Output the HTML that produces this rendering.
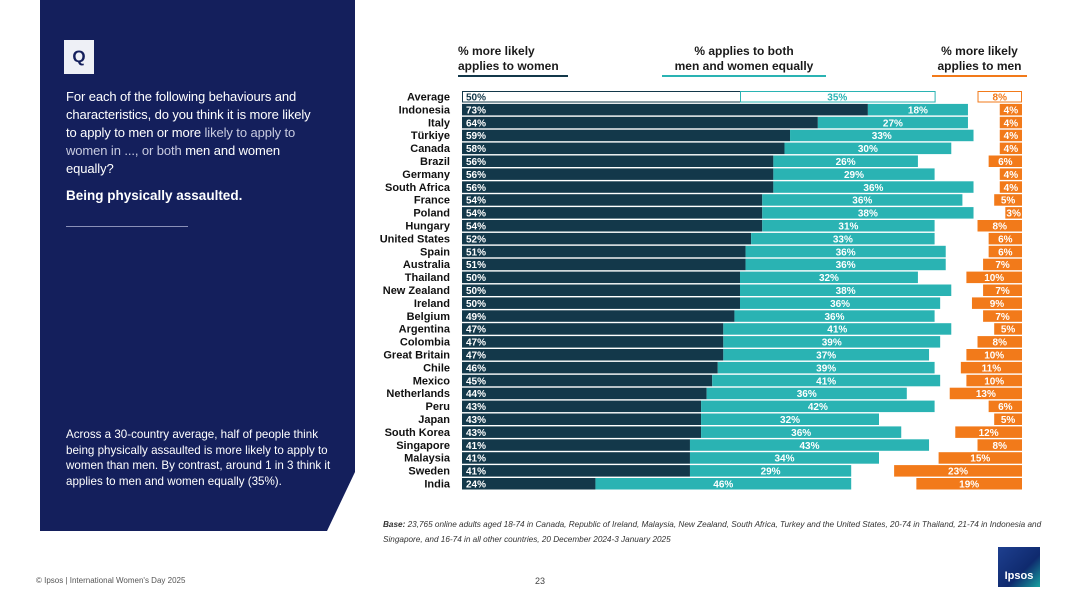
<!DOCTYPE html>
<html><head><meta charset="utf-8">
<style>
body{margin:0;width:1080px;height:608px;background:#fff;position:relative;overflow:hidden;font-family:"Liberation Sans",sans-serif}
.abs{position:absolute}
.hd{font-weight:bold;font-size:12px;color:#1a1a1a;line-height:15px;text-align:center}
</style></head><body>
<svg class="abs" style="left:0;top:0" width="1080" height="608">
<polygon points="40,0 355,0 355,472 327,531 40,531" fill="#141f5c"/>
</svg>
<div class="abs" style="left:64px;top:40px;width:30px;height:34px;background:#eef0f6;color:#141f5c;font-weight:bold;font-size:17px;text-align:center;line-height:34px">Q</div>
<div class="abs" style="left:66px;top:88px;width:255px;color:#fff;font-size:13px;line-height:18px;letter-spacing:-0.1px">For each of the following behaviours and characteristics, do you think it is more likely to apply to men or more <span style="color:#c8cbe0">likely to apply to women in ..., or both</span> men and women equally?</div>
<div class="abs" style="left:66px;top:188px;color:#fff;font-size:13.5px;font-weight:bold">Being physically assaulted.</div>
<div class="abs" style="left:66px;top:226px;width:122px;border-top:1px solid #8a90b8"></div>
<div class="abs" style="left:66px;top:427px;width:266px;color:#fff;font-size:11.6px;line-height:15.5px">Across a 30-country average, half of people think being physically assaulted is more likely to apply to women than men. By contrast, around 1 in 3 think it applies to men and women equally (35%).</div>

<div class="abs hd" style="left:458px;top:44px;width:110px;text-align:left">% more likely<br>applies to women<div style="height:2px;background:#13384a;margin-top:1px"></div></div>
<div class="abs hd" style="left:662px;top:44px;width:164px">% applies to both<br>men and women equally<div style="height:2px;background:#2ab3b3;margin-top:1px"></div></div>
<div class="abs hd" style="left:932px;top:44px;width:95px">% more likely<br>applies to men<div style="height:2px;background:#f27a1a;margin-top:1px"></div></div>

<svg class="abs" id="chart" style="left:0;top:0" width="1080" height="608"></svg>

<div class="abs" style="left:383px;top:517px;width:670px;font-size:8.2px;line-height:15px;color:#333;font-style:italic"><b>Base:</b> 23,765 online adults aged 18-74 in Canada, Republic of Ireland, Malaysia, New Zealand, South Africa, Turkey and the United States, 20-74 in Thailand, 21-74 in Indonesia and Singapore, and 16-74 in all other countries, 20 December 2024-3 January 2025</div>
<div class="abs" style="left:36px;top:576px;font-size:8px;color:#555">© Ipsos | International Women's Day 2025</div>
<div class="abs" style="left:535px;top:576px;font-size:9px;color:#444">23</div>
<div class="abs" style="left:998px;top:547px;width:42px;height:40px;background:linear-gradient(135deg,#1e3f8f,#0f2a6e 60%,#17a2a0);color:#fff;font-weight:bold;font-size:11px;text-align:center;line-height:58px">Ipsos</div>

<script>
const countries=["Average","Indonesia","Italy","Türkiye","Canada","Brazil","Germany","South Africa","France","Poland","Hungary","United States","Spain","Australia","Thailand","New Zealand","Ireland","Belgium","Argentina","Colombia","Great Britain","Chile","Mexico","Netherlands","Peru","Japan","South Korea","Singapore","Malaysia","Sweden","India"];
const women=[50,73,64,59,58,56,56,56,54,54,54,52,51,51,50,50,50,49,47,47,47,46,45,44,43,43,43,41,41,41,24];
const both=[35,18,27,33,30,26,29,36,36,38,31,33,36,36,32,38,36,36,41,39,37,39,41,36,42,32,36,43,34,29,46];
const men=[8,4,4,4,4,6,4,4,5,3,8,6,6,7,10,7,9,7,5,8,10,11,10,13,6,5,12,8,15,23,19];
const svg=document.getElementById('chart');
const NS='http://www.w3.org/2000/svg';
const x0=462, sc=5.56, xR=1022, y0=91, step=12.9, bh=11.5;
function xs(v){return v*sc;}
function yr(i){return y0+i*step;}
function rect(x,y,w,h,fill,stroke,name){const r=document.createElementNS(NS,'rect');r.setAttribute('x',x);r.setAttribute('y',y);r.setAttribute('width',w);r.setAttribute('height',h);r.setAttribute('fill',fill);if(stroke){r.setAttribute('stroke',stroke);r.setAttribute('stroke-width',1);}


svg.appendChild(r);return r;}
function txt(x,y,s,fill,anchor,size,name){const t=document.createElementNS(NS,'text');t.setAttribute('x',x);t.setAttribute('y',y);t.setAttribute('fill',fill);t.setAttribute('text-anchor',anchor);t.setAttribute('font-size',size);t.setAttribute('font-weight','bold');t.setAttribute('font-family','Liberation Sans, sans-serif');t.textContent=s;


svg.appendChild(t);}
countries.forEach((c,i)=>{
 const y=yr(i), avg=i===0;
 const wW=xs(women[i]), bW=xs(both[i]), mW=xs(men[i]);
 txt(450,y+9.5,c,'#111','end',11,'country-label');
 if(avg){
  rect(x0+0.5,y+0.5,wW,bh-1,'#fff','#13384a','bar-women');
  rect(x0+wW+0.5,y+0.5,bW,bh-1,'#fff','#2ab3b3','bar-both');
  rect(xR-mW+0.5,y+0.5,mW-1,bh-1,'#fff','#f27a1a','bar-men');
 } else {
  rect(x0,y,wW,bh,'#13384a',null,'bar-women');
  rect(x0+wW,y,bW,bh,'#2ab3b3',null,'bar-both');
  rect(xR-mW,y,mW,bh,'#f27a1a',null,'bar-men');
 }
 txt(x0+4,y+9.5,women[i]+'%',avg?'#13384a':'#fff','start',10,'label-women');
 txt(x0+wW+bW/2,y+9.5,both[i]+'%',avg?'#2ab3b3':'#fff','middle',10,'label-both');
 txt(xR-mW/2,y+9.5,men[i]+'%',avg?'#f27a1a':'#fff','middle',10,'label-men');
});
</script>
</body></html>
